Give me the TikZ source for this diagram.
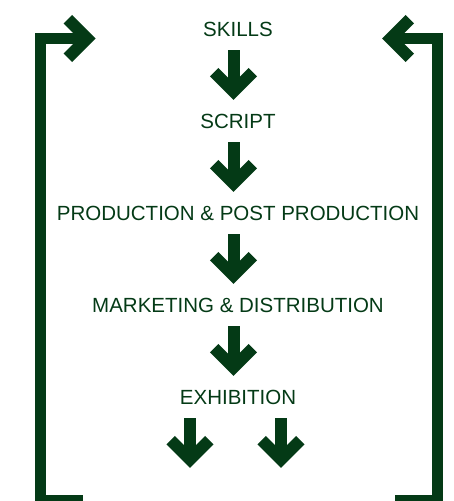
\documentclass[tikz,border=0pt]{standalone}
\usepackage{fontspec}
\setmainfont{Liberation Sans}
\usetikzlibrary{calc}
\definecolor{filmgreen}{RGB}{4,58,22}
\tikzset{
  stage/.style={anchor=base,inner sep=0pt,text=filmgreen,font=\fontsize{20.5}{24}\selectfont},
  arrowline/.style={draw=filmgreen,line width=12pt,line join=miter},
  bracket/.style={draw=filmgreen,line width=11pt,line join=miter},
  downarrow/.pic={
    \draw[arrowline](0,-25)--(0,16.5);
    \draw[arrowline](-19.3,-2.8)--(0,16.5)--(19.3,-2.8);
  }
}
\begin{document}
\begin{tikzpicture}[x=1pt,y=-1pt]
\useasboundingbox(0,0)rectangle(454,501);
%
\node[stage](skills)at(238,36.7){SKILLS};
\node[stage](script)at(238,128.7){SCRIPT};
\node[stage](prod)at(238,220.7){PRODUCTION \& POST PRODUCTION};
\node[stage](market)at(238,312.7){MARKETING \& DISTRIBUTION};
\node[stage](exhib)at(238,404.7){EXHIBITION};
%
\pic at ($(skills.base)+(-4.5,38.3)$){downarrow};
\pic at ($(script.base)+(-4.5,38.3)$){downarrow};
\pic at ($(prod.base)+(-4.5,38.3)$){downarrow};
\pic at ($(market.base)+(-4.5,38.3)$){downarrow};
\pic at ($(exhib.base)+(-48,38.3)$){downarrow};
\pic at ($(exhib.base)+(43,38.3)$){downarrow};
%
\draw[bracket](87.2,38.5)--(40.5,38.5)--(40.5,500.5)--(83,500.5);
\draw[arrowline](67.9,19.2)--(87.2,38.5)--(67.9,57.8);
\draw[bracket](390.5,38.5)--(437.5,38.5)--(437.5,500.5)--(395,500.5);
\draw[arrowline](409.8,19.2)--(390.5,38.5)--(409.8,57.8);
\end{tikzpicture}
\end{document}
